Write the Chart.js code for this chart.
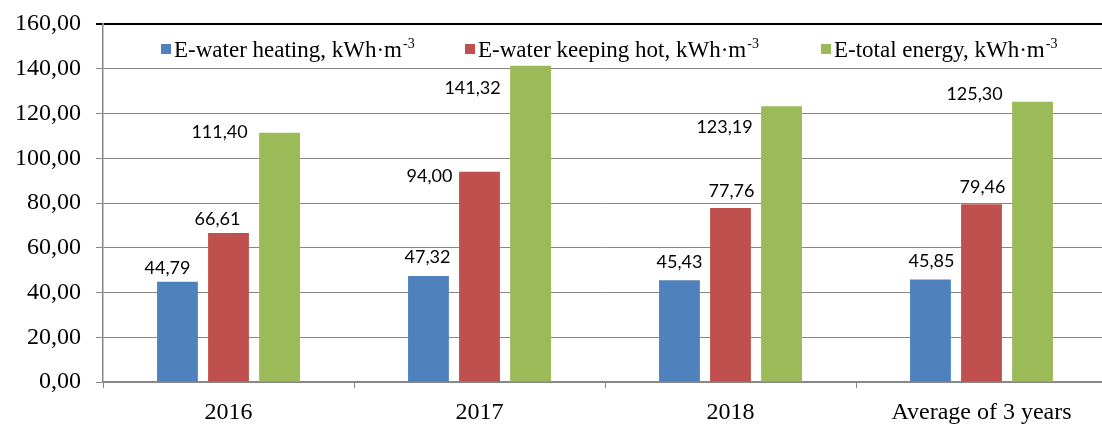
<!DOCTYPE html>
<html>
<head>
<meta charset="utf-8">
<script src="https://cdn.jsdelivr.net/npm/chart.js@4"></script>
<style>
    html, body { margin: 0; padding: 0; background: #fff; overflow: hidden; }
    #wrap { width: 1110px; height: 426px; }
</style>
</head>
<body>
<div id="wrap"><canvas id="energyChart"></canvas></div>
<script>
const categories = ['2016', '2017', '2018', 'Average of 3 years'];
const waterHeating = [44.79, 47.32, 45.43, 45.85];
const waterKeepingHot = [66.61, 94.00, 77.76, 79.46];
const totalEnergy = [111.40, 141.32, 123.19, 125.30];
const yTicks = [0, 20, 40, 60, 80, 100, 120, 140, 160];

const seriesNames = ['E-water heating, kWh·m', 'E-water keeping hot, kWh·m', 'E-total energy, kWh·m'];
const seriesColors = ['#4F81BD', '#C0504D', '#9BBB59'];

// label nudges (dx, dy from the top-centre of each bar), hand placed like the original
const labelOffsets = [
    [[-10, -14], [-1, -19], [0, -18], [1, -18]],
    [[-11, -14], [-50, 5], [1, -17], [1, -17]],
    [[-60, -1], [-58, 22], [-57, 21], [-58, -7]],
];
const legendX = [58, 362, 718];

const fmt = (v) => v.toFixed(2).replace('.', ',');

const valueLabels = {
    id: 'valueLabels',
    afterDatasetsDraw(chart) {
        const ctx = chart.ctx;
        ctx.save();
        ctx.font = '18px Lato';
        ctx.fillStyle = '#000';
        ctx.textAlign = 'center';
        ctx.textBaseline = 'middle';
        chart.data.datasets.forEach((ds, i) => {
            chart.getDatasetMeta(i).data.forEach((bar, j) => {
                const [dx, dy] = labelOffsets[i][j];
                ctx.fillText(fmt(ds.data[j]), bar.x + dx, bar.y + dy);
            });
        });
        ctx.restore();
    },
};

const legendBox = {
    id: 'legendBox',
    afterDraw(chart) {
        const ctx = chart.ctx;
        const left = chart.chartArea.left;
        ctx.save();
        ctx.textBaseline = 'alphabetic';
        ctx.textAlign = 'left';
        seriesNames.forEach((name, i) => {
            const x = left + legendX[i];
            ctx.fillStyle = seriesColors[i];
            ctx.fillRect(x, 44, 10, 10);
            ctx.fillStyle = '#000';
            ctx.font = '23px "Liberation Serif"';
            ctx.fillText(name, x + 13, 57);
            const w = ctx.measureText(name).width;
            ctx.font = '14px "Liberation Serif"';
            ctx.fillText('-3', x + 13 + w + 1, 48);
        });
        ctx.restore();
    },
};

new Chart(document.getElementById('energyChart').getContext('2d'), {
    type: 'bar',
    data: {
        labels: categories,
        datasets: [
            { label: seriesNames[0], data: waterHeating, backgroundColor: seriesColors[0] },
            { label: seriesNames[1], data: waterKeepingHot, backgroundColor: seriesColors[1] },
            { label: seriesNames[2], data: totalEnergy, backgroundColor: seriesColors[2] },
        ],
    },
    options: {
        responsive: true,
        maintainAspectRatio: false,
        animation: false,
        categoryPercentage: 0.61,
        barPercentage: 0.8,
        layout: { padding: { top: 24, right: 3, left: 0, bottom: 0 } },
        plugins: {
            legend: { display: false },
            tooltip: { enabled: false },
        },
        scales: {
            x: {
                grid: { drawOnChartArea: false, drawTicks: true, tickLength: 6, color: '#888' },
                border: { color: '#888', width: 1.5 },
                ticks: { color: '#000', font: { family: 'Liberation Serif', size: 24 }, padding: 10 },
                afterFit: (s) => { s.height = 44; s.paddingLeft = 0; s.paddingRight = 0; },
            },
            y: {
                min: 0,
                max: 160,
                afterBuildTicks: (s) => { s.ticks = yTicks.map((v) => ({ value: v })); },
                grid: {
                    tickLength: 7,
                    color: (c) => (c.tick && c.tick.value === 160 ? '#000' : '#888'),
                    lineWidth: (c) => (c.tick && c.tick.value === 160 ? 2 : 1),
                },
                border: { color: '#888', width: 1.5 },
                ticks: {
                    color: '#000',
                    font: { family: 'Liberation Serif', size: 24 },
                    padding: 15,
                    callback: (v) => fmt(v),
                },
                afterFit: (s) => { s.width = 103; s.paddingTop = 0; s.paddingBottom = 0; },
            },
        },
    },
    plugins: [valueLabels, legendBox],
});
</script>
</body>
</html>
